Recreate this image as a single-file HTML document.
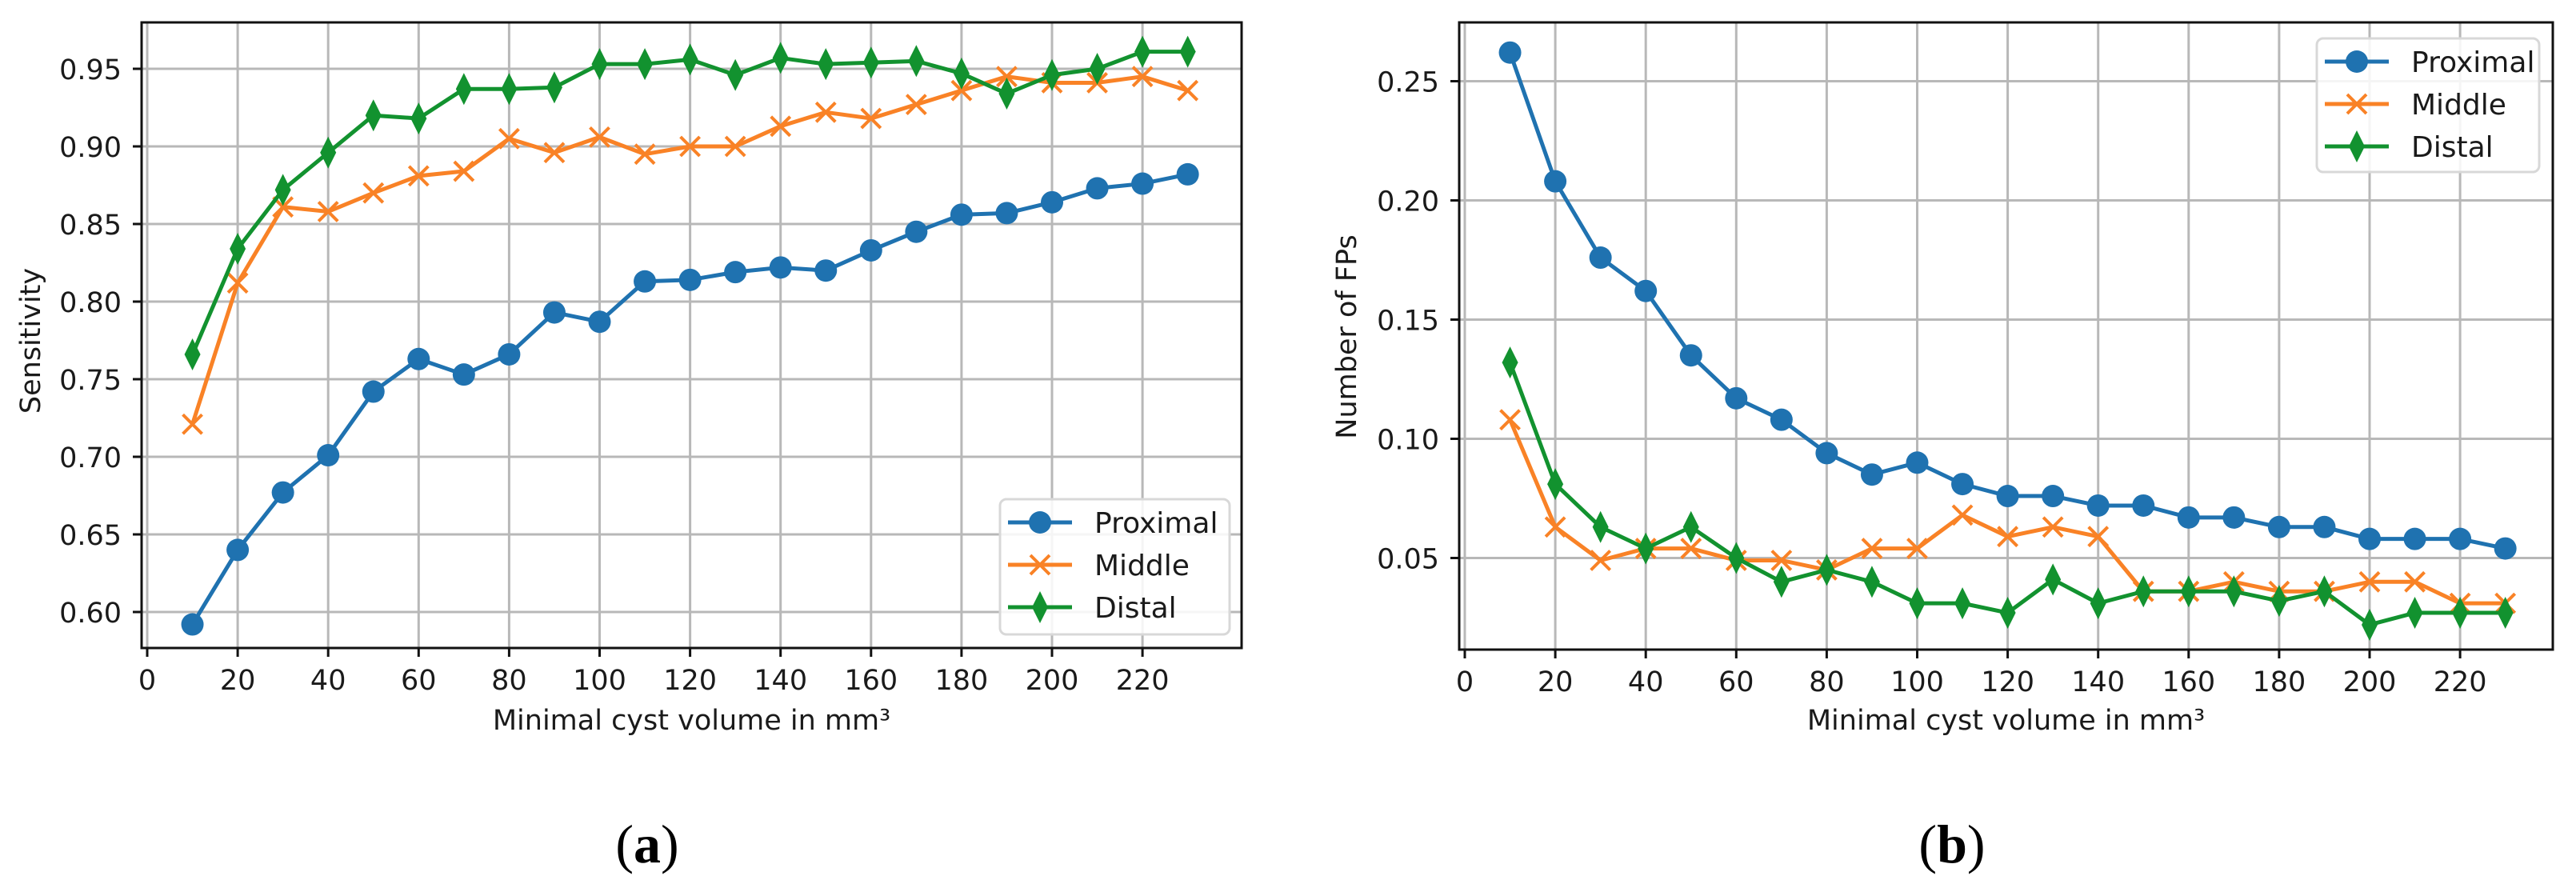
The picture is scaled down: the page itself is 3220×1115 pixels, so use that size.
<!DOCTYPE html>
<html><head><meta charset="utf-8">
<style>
html,body{margin:0;padding:0;background:#fff;}
svg{display:block;}
text{font-family:"DejaVu Sans","Liberation Sans",sans-serif;fill:#1a1a1a;}
.cap{font-family:"Liberation Serif",serif;fill:#000;}
</style></head>
<body>
<svg id="fig" width="3220" height="1115" viewBox="0 0 3220 1115" xmlns="http://www.w3.org/2000/svg">
<text class="cap" x="809" y="1078" text-anchor="middle" font-size="68">(<tspan font-weight="bold">a</tspan>)</text>
<text class="cap" x="2440" y="1078" text-anchor="middle" font-size="68">(<tspan font-weight="bold">b</tspan>)</text>
</svg>
<script>
const xCats=[10,20,30,40,50,60,70,80,90,100,110,120,130,140,150,160,170,180,190,200,210,220,230];
const xTicks=[0,20,40,60,80,100,120,140,160,180,200,220];
const sensProximal=[0.592,0.640,0.677,0.701,0.742,0.763,0.753,0.766,0.793,0.787,0.813,0.814,0.819,0.822,0.820,0.833,0.845,0.856,0.857,0.864,0.873,0.876,0.882];
const sensMiddle=[0.721,0.812,0.861,0.858,0.870,0.881,0.884,0.905,0.896,0.906,0.895,0.900,0.900,0.913,0.922,0.918,0.927,0.936,0.945,0.941,0.941,0.945,0.936];
const sensDistal=[0.766,0.834,0.872,0.896,0.920,0.918,0.937,0.937,0.938,0.953,0.953,0.956,0.946,0.957,0.953,0.954,0.955,0.947,0.934,0.946,0.950,0.961,0.961];
const sensTicks=[0.60,0.65,0.70,0.75,0.80,0.85,0.90,0.95];
const fpProximal=[0.262,0.208,0.176,0.162,0.135,0.117,0.108,0.094,0.085,0.090,0.081,0.076,0.076,0.072,0.072,0.067,0.067,0.063,0.063,0.058,0.058,0.058,0.054];
const fpMiddle=[0.108,0.063,0.049,0.054,0.054,0.049,0.049,0.045,0.054,0.054,0.068,0.059,0.063,0.059,0.036,0.036,0.040,0.036,0.036,0.040,0.040,0.031,0.031];
const fpDistal=[0.132,0.081,0.063,0.054,0.063,0.050,0.040,0.045,0.040,0.031,0.031,0.027,0.041,0.031,0.036,0.036,0.036,0.032,0.036,0.022,0.027,0.027,0.027];
const fpTicks=[0.05,0.10,0.15,0.20,0.25];
const seriesNames=["Proximal","Middle","Distal"];

const NS="http://www.w3.org/2000/svg";
const svg=document.getElementById('fig');
const COL=["#1f72b0","#f98226","#12922f"];
function mk(tag,attrs,parent){const e=document.createElementNS(NS,tag);for(const k in attrs)e.setAttribute(k,attrs[k]);(parent||svg).appendChild(e);return e;}

function marker(g,type,x,y,c){
  let m;
  if(type===0){m=mk('circle',{cx:x,cy:y,r:14,fill:c},g);}
  else if(type===1){m=mk('path',{d:`M${x-12} ${y-12}L${x+12} ${y+12}M${x-12} ${y+12}L${x+12} ${y-12}`,stroke:c,'stroke-width':4,fill:'none'},g);}
  else {m=mk('path',{d:`M${x} ${y-20}L${x+10} ${y}L${x} ${y+20}L${x-10} ${y}Z`,fill:c},g);}
  return m;
}

function panel(o){
  const g=mk('g',{});
  
  
  const sx=v=>o.x0+(v-0)*o.px10/10;
  const sy=v=>o.yRef-(v-o.vRef)*o.py/0.05;
  xTicks.forEach(t=>{const l=mk('line',{x1:sx(t),x2:sx(t),y1:o.top,y2:o.bot,stroke:'#b8b8b8','stroke-width':3},g);
    });
  o.yTicks.forEach(t=>{const l=mk('line',{x1:o.left,x2:o.right,y1:sy(t),y2:sy(t),stroke:'#b8b8b8','stroke-width':3},g);
    });
  o.series.forEach((s,i)=>{
    const sg=mk('g',{},g);
    
    
    const pts=s.map((v,j)=>sx(xCats[j])+','+sy(v)).join(' ');
    mk('polyline',{points:pts,fill:'none',stroke:COL[i],'stroke-width':5,'stroke-linejoin':'round'},sg);
    s.forEach((v,j)=>{const m=marker(sg,i,sx(xCats[j]),sy(v),COL[i]);
      });
  });
  const f=mk('rect',{x:o.left,y:o.top,width:o.right-o.left,height:o.bot-o.top,fill:'none',stroke:'#111','stroke-width':3},g);
  
  xTicks.forEach(t=>{mk('line',{x1:sx(t),x2:sx(t),y1:o.bot,y2:o.bot+11,stroke:'#111','stroke-width':3},g);
    const tx=mk('text',{x:sx(t),y:o.bot+52,'text-anchor':'middle','font-size':35},g);tx.textContent=t;
    });
  o.yTicks.forEach(t=>{mk('line',{x1:o.left-11,x2:o.left,y1:sy(t),y2:sy(t),stroke:'#111','stroke-width':3},g);
    const tx=mk('text',{x:o.left-25,y:sy(t)+13,'text-anchor':'end','font-size':35},g);tx.textContent=t.toFixed(2);
    });
  const xt=mk('text',{x:(o.left+o.right)/2,y:912,'text-anchor':'middle','font-size':35},g);
  xt.textContent='Minimal cyst volume in mm³';
  
  const yt=mk('text',{x:0,y:0,'text-anchor':'middle','font-size':35,transform:`translate(${o.ytx},${o.yty}) rotate(-90)`},g);
  yt.textContent=o.ytitle;
  
  const lg=mk('g',{},g);
  
  mk('rect',{x:o.lx,y:o.ly,width:o.lw,height:o.lh,rx:8,fill:'#fff','fill-opacity':0.85,stroke:'#d8d8d8','stroke-width':3},lg);
  seriesNames.forEach((n,i)=>{
    const yy=o.ly+29+i*53;
    const e=mk('g',{},lg);
    
    mk('line',{x1:o.lx+10,x2:o.lx+90,y1:yy,y2:yy,stroke:COL[i],'stroke-width':5},e);
    marker(e,i,o.lx+50,yy,COL[i]);
    const t=mk('text',{x:o.lx+118,y:yy+13,'font-size':36},e);t.textContent=n;
  });
}

panel({name:'sensitivity-chart',x0:184,px10:56.55,yRef:86,vRef:0.95,py:97,left:177,right:1552,top:28,bot:810,
  yTicks:sensTicks,series:[sensProximal,sensMiddle,sensDistal],ytitle:'Sensitivity',ytx:50,yty:426,
  lx:1250,ly:624,lw:287,lh:169});
panel({name:'false-positives-chart',x0:1831,px10:56.55,yRef:697.5,vRef:0.05,py:149,left:1824,right:3191,top:28,bot:812,
  yTicks:fpTicks,series:[fpProximal,fpMiddle,fpDistal],ytitle:'Number of FPs',ytx:1695,yty:421,
  lx:2896,ly:48,lw:278,lh:167});
</script>
</body></html>
